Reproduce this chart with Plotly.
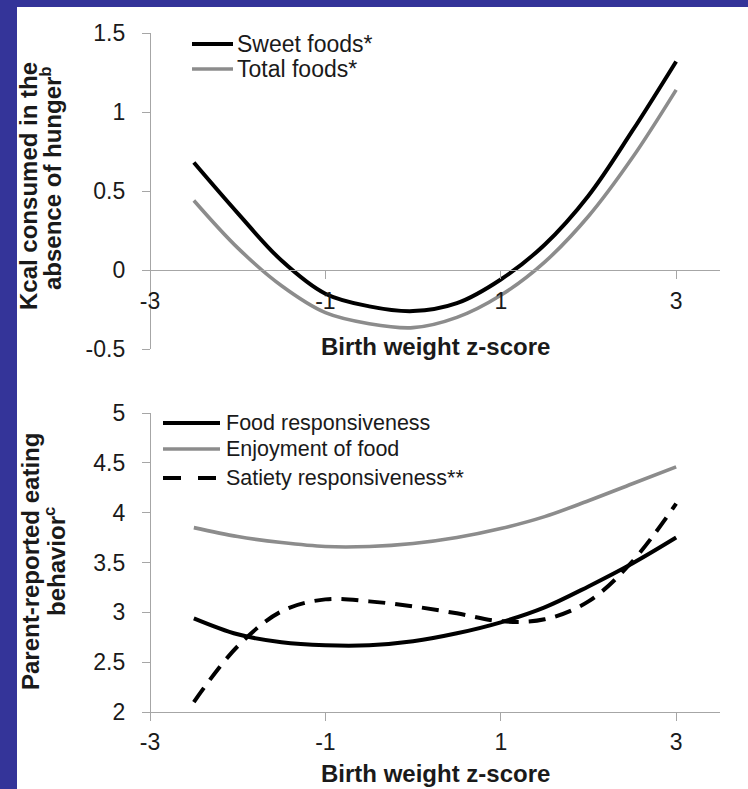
import plotly.graph_objects as go

# Birth weight z-score positions at which the fitted curves are sampled
z_score = [-2.5, -2, -1.5, -1, -0.5, 0, 0.5, 1, 1.5, 2, 2.5, 3]

# Upper panel: kcal consumed in the absence of hunger
sweet_foods = [0.68, 0.36, 0.06, -0.15, -0.23, -0.26, -0.21, -0.06, 0.16, 0.47, 0.88, 1.32]
total_foods = [0.44, 0.14, -0.10, -0.27, -0.34, -0.365, -0.30, -0.16, 0.05, 0.34, 0.71, 1.14]

# Lower panel: parent-reported eating behaviour
food_responsiveness = [2.94, 2.78, 2.70, 2.67, 2.67, 2.71, 2.79, 2.90, 3.05, 3.26, 3.49, 3.75]
enjoyment_of_food = [3.85, 3.76, 3.70, 3.66, 3.66, 3.69, 3.75, 3.84, 3.96, 4.12, 4.29, 4.46]
satiety_responsiveness = [2.10, 2.66, 3.01, 3.13, 3.11, 3.06, 2.99, 2.91, 2.93, 3.11, 3.51, 4.09]

x_ticks = [-3, -1, 1, 3]
x_tick_text = ["-3", "-1", "1", "3"]
top_y_ticks = [-0.5, 0, 0.5, 1, 1.5]
top_y_text = ["-0.5", "0", "0.5", "1", "1.5"]
bottom_y_ticks = [2, 2.5, 3, 3.5, 4, 4.5, 5]
bottom_y_text = ["2", "2.5", "3", "3.5", "4", "4.5", "5"]

W, H = 748, 789
FONT = "Liberation Sans, Arial, sans-serif"
BLACK = "#000000"
GREY = "#8c8c8c"
AXIS = "#a6a6a6"
TEXT = "#1a1a1a"
BLUE = "#343499"


def fx(px):
    return px / W


def fy(px):
    return 1 - px / H


fig = go.Figure()

# upper panel
fig.add_trace(go.Scatter(x=z_score, y=total_foods, mode="lines", name="Total foods*",
                         line=dict(color=GREY, width=3.6, shape="spline"),
                         xaxis="x", yaxis="y", showlegend=False))
fig.add_trace(go.Scatter(x=z_score, y=sweet_foods, mode="lines", name="Sweet foods*",
                         line=dict(color=BLACK, width=4, shape="spline"),
                         xaxis="x", yaxis="y", showlegend=False))

# lower panel
fig.add_trace(go.Scatter(x=z_score, y=enjoyment_of_food, mode="lines", name="Enjoyment of food",
                         line=dict(color=GREY, width=3.6, shape="spline"),
                         xaxis="x2", yaxis="y2", showlegend=False))
fig.add_trace(go.Scatter(x=z_score, y=food_responsiveness, mode="lines", name="Food responsiveness",
                         line=dict(color=BLACK, width=4, shape="spline"),
                         xaxis="x2", yaxis="y2", showlegend=False))
fig.add_trace(go.Scatter(x=z_score, y=satiety_responsiveness, mode="lines",
                         name="Satiety responsiveness**",
                         line=dict(color=BLACK, width=4, shape="spline", dash="17px,10px"),
                         xaxis="x2", yaxis="y2", showlegend=False))

tick_font = dict(family=FONT, size=23, color=TEXT)
axis_common = dict(showgrid=False, zeroline=False, showline=True, linecolor=AXIS, linewidth=1.3,
                   ticks="outside", ticklen=8, tickwidth=1.3, tickcolor=AXIS,
                   tickfont=tick_font, fixedrange=True, automargin=False)

fig.update_layout(
    template="none",
    width=W, height=H,
    margin=dict(l=0, r=0, t=0, b=0, pad=0, autoexpand=False),
    paper_bgcolor=BLUE, plot_bgcolor="white",
    font=dict(family=FONT, color=TEXT),
    xaxis=dict(domain=[fx(150), fx(720)], range=[-3, 3.5], anchor="free", position=fy(270),
               tickvals=x_ticks, ticktext=x_tick_text, ticklabelstandoff=2, **axis_common),
    yaxis=dict(domain=[fy(349), fy(33)], range=[-0.5, 1.5], anchor="free", position=fx(150),
               tickvals=top_y_ticks, ticktext=top_y_text, ticklabelstandoff=12, **axis_common),
    xaxis2=dict(domain=[fx(150), fx(720)], range=[-3, 3.5], anchor="y2",
                tickvals=x_ticks, ticktext=x_tick_text, ticklabelstandoff=1, **axis_common),
    yaxis2=dict(domain=[fy(712), fy(413)], range=[2, 5], anchor="free", position=fx(150),
                tickvals=bottom_y_ticks, ticktext=bottom_y_text, ticklabelstandoff=12, **axis_common),
)

shapes = [
    # white slide panel inside the blue frame
    dict(type="rect", xref="paper", yref="paper", x0=fx(17), x1=1, y0=0, y1=fy(7),
         fillcolor="white", line=dict(width=0), layer="below"),
]

# legend keys
legend_rows = [
    (192, 233, 44, BLACK, "solid", "Sweet foods*", 235, 23),
    (192, 233, 69, GREY, "solid", "Total foods*", 235, 23),
    (163, 220, 423, BLACK, "solid", "Food responsiveness", 224, 21.5),
    (163, 220, 449, GREY, "solid", "Enjoyment of food", 224, 21.5),
    (163, 220, 478, BLACK, "18px,17px", "Satiety responsiveness**", 224, 21.5),
]
annotations = []
for x0, x1, yy, color, dash, label, tx, size in legend_rows:
    shapes.append(dict(type="line", xref="paper", yref="paper", x0=fx(x0), x1=fx(x1),
                       y0=fy(yy), y1=fy(yy),
                       line=dict(color=color, width=4 if color == BLACK else 3.6, dash=dash)))
    annotations.append(dict(text=label, xref="paper", yref="paper", x=fx(tx), y=fy(yy),
                            xanchor="left", yanchor="middle", showarrow=False,
                            font=dict(family=FONT, size=size, color=TEXT)))

title_font = dict(family=FONT, size=24, color=TEXT)
# x-axis titles
for yy in (347, 773):
    annotations.append(dict(text="<b>Birth weight z-score</b>", xref="paper", yref="paper",
                            x=fx(435), y=fy(yy), xanchor="center", yanchor="middle",
                            showarrow=False, font=title_font))

# y-axis titles, one annotation per line
y_title_lines = [
    ("<b>Kcal consumed in the</b>", 28, 186),
    ("<b>absence of hunger<sup>b</sup></b>", 51, 178),
    ("<b>Parent-reported eating</b>", 30, 562),
    ("<b>behavior<sup>c</sup></b>", 55, 562),
]
for text, cx, cy in y_title_lines:
    annotations.append(dict(text=text, xref="paper", yref="paper", x=fx(cx), y=fy(cy),
                            xanchor="center", yanchor="middle", textangle=-90,
                            showarrow=False, font=title_font))

fig.update_layout(shapes=shapes, annotations=annotations)

# the page body gets no default margin so the figure fills the window
fig.write_html("out.html", post_script="document.body.style.margin='0';")
